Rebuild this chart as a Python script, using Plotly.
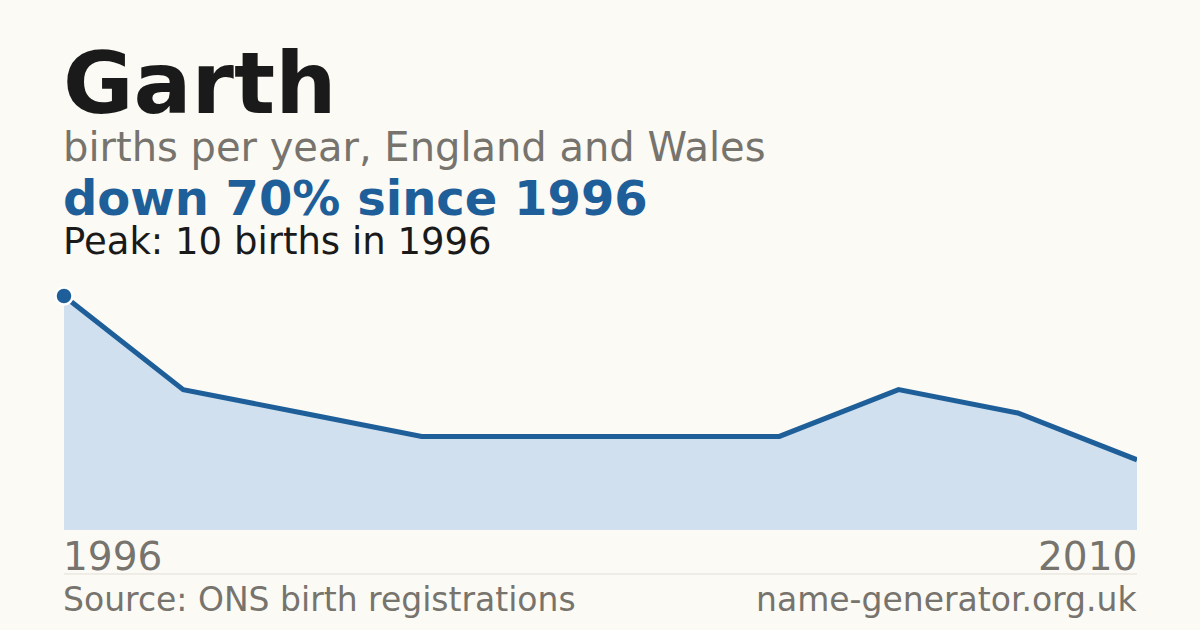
import plotly.graph_objects as go

# registered years (only years with enough births are published)
years = [1996, 1997, 1999, 2001, 2003, 2005, 2006, 2007, 2009, 2010]
births = [10, 6, 5, 4, 4, 4, 4, 6, 5, 3]
idx = list(range(len(years)))

BG = "#fbfaf5"
BLUE = "#1f5f99"
FILL = "#d0e0ef"
GRAY = "#77736d"
INK = "#1a1a1a"
FONT = "DejaVu Sans"

T, B = 270, 530   # plot area top/bottom in px
def py(y):
    return (B - y) / (B - T)

fig = go.Figure()
fig.add_trace(go.Scatter(
    x=idx, y=births, mode="lines", fill="tozeroy",
    line=dict(color=BLUE, width=5), fillcolor=FILL, hoverinfo="skip",
))
fig.add_trace(go.Scatter(
    x=[idx[0]], y=[births[0]], mode="markers",
    marker=dict(color=BLUE, size=17, line=dict(color="white", width=2.5)),
    cliponaxis=False, hoverinfo="skip",
))

ann = [
    dict(text="<b>Garth</b>", y=py(83), font=dict(size=86, color=INK), xanchor="left", x=0),
    dict(text="births per year, England and Wales", y=py(147), font=dict(size=40, color=GRAY), xanchor="left", x=0),
    dict(text="<b>down 70% since 1996</b>", y=py(198), font=dict(size=48, color=BLUE), xanchor="left", x=0),
    dict(text="Peak: 10 births in 1996", y=py(241), font=dict(size=37, color=INK), xanchor="left", x=0),
    dict(text=str(years[0]), y=py(556), font=dict(size=39, color=GRAY), xanchor="left", x=0),
    dict(text=str(years[-1]), y=py(556), font=dict(size=39, color=GRAY), xanchor="right", x=1),
    dict(text="Source: ONS birth registrations", y=py(599), font=dict(size=33, color=GRAY), xanchor="left", x=0),
    dict(text="name-generator.org.uk", y=py(599), font=dict(size=33, color=GRAY), xanchor="right", x=1),
]
for a in ann:
    a.update(xref="paper", yref="paper", showarrow=False, yanchor="middle",
             xshift=-3 if a["xanchor"] == "left" else 2)
    a["font"]["family"] = FONT

fig.update_layout(
    width=1200, height=630,
    margin=dict(l=64, r=63, t=T, b=630 - B),
    paper_bgcolor=BG, plot_bgcolor=BG,
    showlegend=False,
    annotations=ann,
    font=dict(family=FONT),
    xaxis=dict(range=[0, len(idx) - 1], visible=False, fixedrange=True),
    yaxis=dict(range=[0, 10 * (B - T) / (B - 296)], visible=False, fixedrange=True),
    shapes=[dict(type="line", xref="paper", yref="paper", x0=0, x1=1,
                 y0=py(574), y1=py(574), line=dict(color="#e2dfd8", width=1))],
)

fig.write_html("out.html", config={"displayModeBar": False},
               post_script="document.body.style.margin='0';document.body.style.background='%s';" % BG)
